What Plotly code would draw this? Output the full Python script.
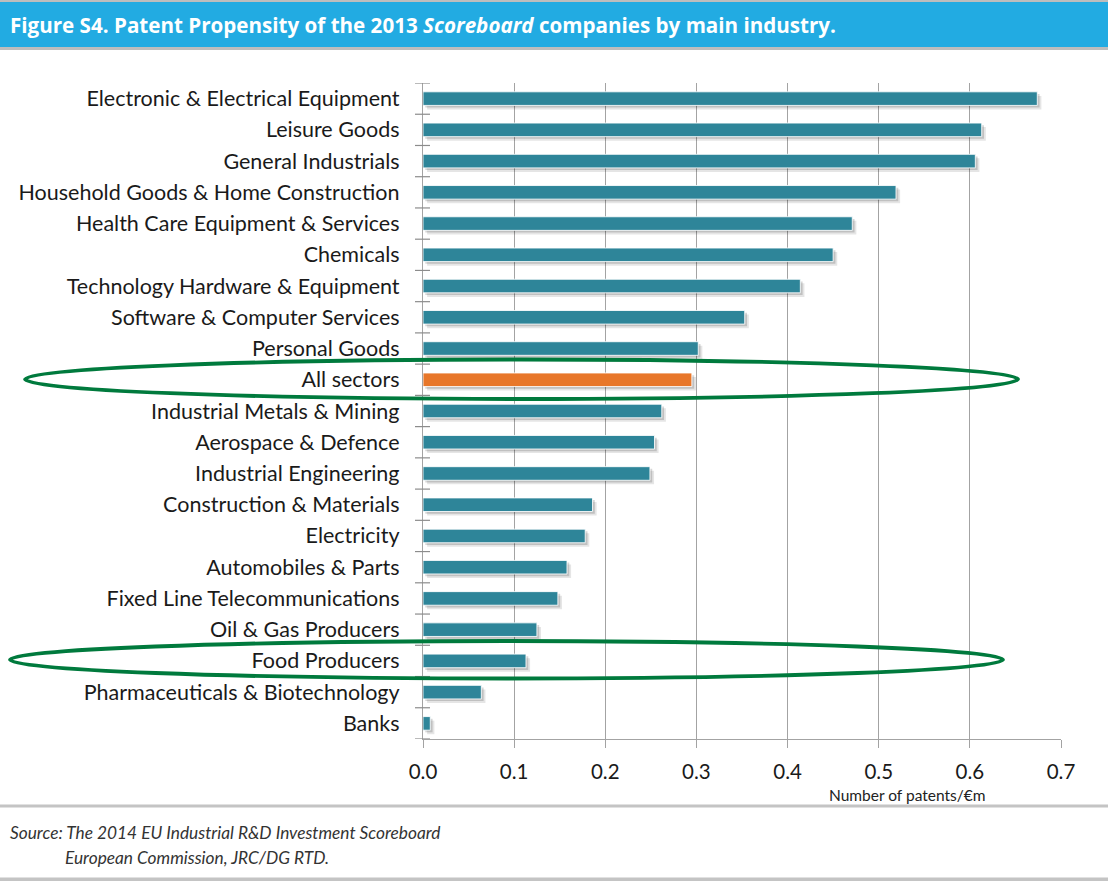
import plotly.graph_objects as go

categories = [
    "Electronic & Electrical Equipment", "Leisure Goods", "General Industrials",
    "Household Goods & Home Construction", "Health Care Equipment & Services",
    "Chemicals", "Technology Hardware & Equipment", "Software & Computer Services",
    "Personal Goods", "All sectors", "Industrial Metals & Mining",
    "Aerospace & Defence", "Industrial Engineering", "Construction & Materials",
    "Electricity", "Automobiles & Parts", "Fixed Line Telecommunications",
    "Oil & Gas Producers", "Food Producers", "Pharmaceuticals & Biotechnology", "Banks",
]
values = [0.674, 0.613, 0.606, 0.519, 0.471, 0.450, 0.414, 0.353, 0.302, 0.295,
          0.262, 0.254, 0.249, 0.186, 0.178, 0.158, 0.148, 0.125, 0.113, 0.064, 0.008]
highlight = ["All sectors"]
circled = ["All sectors", "Food Producers"]
x_ticks = [0.0, 0.1, 0.2, 0.3, 0.4, 0.5, 0.6, 0.7]

W, H = 1108, 881
L, R, T, B = 423, 1061, 83, 739  # plot area in pixels


def px(x):
    return (x - L) / (R - L)


def py(y):
    return (B - y) / (B - T)


TEAL = "#2E8599"
ORANGE = "#E8772A"
colors = [ORANGE if c in highlight else TEAL for c in categories]
n = len(categories)
BW = 0.435

fig = go.Figure()
# soft shadow (two layers)
for off, base, alpha in [(0.13, 0.0045, 0.10), (0.07, 0.0025, 0.16)]:
    fig.add_trace(go.Bar(
        y=categories, x=values, base=base, orientation="h",
        width=BW, offset=-BW / 2 + off,
        marker=dict(color=f"rgba(0,0,0,{alpha})", line=dict(width=0)),
        hoverinfo="skip", showlegend=False,
    ))
fig.add_trace(go.Bar(
    y=categories, x=values, orientation="h",
    width=BW, offset=-BW / 2,
    marker=dict(color=colors, line=dict(color="rgba(255,255,255,0.85)", width=1)),
    showlegend=False,
))

shapes = []
# title bar
shapes.append(dict(type="rect", xref="paper", yref="paper", x0=px(0), x1=px(W),
                   y0=py(0), y1=py(2), fillcolor="#BDBDBD", line_width=0, layer="below"))
shapes.append(dict(type="rect", xref="paper", yref="paper", x0=px(0), x1=px(W),
                   y0=py(2), y1=py(47), fillcolor="#22ABE2", line_width=0, layer="below"))
shapes.append(dict(type="rect", xref="paper", yref="paper", x0=px(0), x1=px(W),
                   y0=py(47), y1=py(50), fillcolor="#BDBDBD", line_width=0, layer="below"))
# separators
shapes.append(dict(type="rect", xref="paper", yref="paper", x0=px(0), x1=px(W),
                   y0=py(804.5), y1=py(807.5), fillcolor="#C4C4C4", line_width=0, layer="below"))
shapes.append(dict(type="rect", xref="paper", yref="paper", x0=px(0), x1=px(W),
                   y0=py(877.5), y1=py(881), fillcolor="#C4C4C4", line_width=0, layer="below"))
# y-axis boundary ticks crossing the axis
for i in range(n + 1):
    shapes.append(dict(type="line", xref="paper", yref="y", x0=px(415), x1=px(430),
                       y0=i - 0.5, y1=i - 0.5, line=dict(color="#8C8C8C", width=1.2)))
# ellipses
ell = {"All sectors": (25, 1018, 359.5, 399), "Food Producers": (10, 1003, 641, 678.5)}
for c in circled:
    x0, x1, y0, y1 = ell[c]
    shapes.append(dict(type="circle", xref="paper", yref="paper",
                       x0=px(x0), x1=px(x1), y0=py(y1), y1=py(y0),
                       line=dict(color="#007A3D", width=3.8), layer="above"))

annotations = [
    dict(xref="paper", yref="paper", x=px(8), y=py(25), xanchor="left", yanchor="middle",
         showarrow=False,
         text="<b>Figure S4. Patent Propensity of the 2013 <i>Scoreboard</i> companies by main industry.</b>",
         font=dict(family="Open Sans", size=20.6, color="white")),
    dict(xref="paper", yref="paper", x=px(827), y=py(795), xanchor="left", yanchor="middle",
         showarrow=False, text="Number of patents/€m",
         font=dict(family="Lato", size=15.5, color="#222222")),
    dict(xref="paper", yref="paper", x=px(8), y=py(832), xanchor="left", yanchor="middle",
         showarrow=False, text="<i>Source: The 2014 EU Industrial R&D Investment Scoreboard</i>",
         font=dict(family="Lato", size=17.3, color="#333333")),
    dict(xref="paper", yref="paper", x=px(63), y=py(857), xanchor="left", yanchor="middle",
         showarrow=False, text="<i>European Commission, JRC/DG RTD.</i>",
         font=dict(family="Lato", size=17.3, color="#333333")),
]

fig.update_layout(
    width=W, height=H,
    margin=dict(l=L, r=W - R, t=T, b=H - B, pad=0),
    paper_bgcolor="white", plot_bgcolor="white",
    barmode="overlay",
    shapes=shapes, annotations=annotations,
    font=dict(family="Lato", color="#1A1A1A"),
    xaxis=dict(range=[0, 0.7], tickvals=x_ticks, ticktext=[f"{v:.1f}" for v in x_ticks],
               showgrid=True, gridcolor="#A3A3A3", gridwidth=1.3,
               showline=True, linecolor="#A3A3A3", linewidth=1.3,
               ticks="outside", ticklen=8, tickcolor="#A3A3A3", tickwidth=1.3,
               tickfont=dict(size=20.5, color="#1A1A1A"), ticklabelstandoff=6,
               zeroline=False, fixedrange=True),
    yaxis=dict(categoryorder="array", categoryarray=categories,
               range=[n - 0.5, -0.5], showgrid=False,
               showline=True, linecolor="#A3A3A3", linewidth=1.3,
               ticks="", tickfont=dict(size=21.5, color="#1A1A1A"),
               ticklabelstandoff=18, fixedrange=True),
)

fig.write_html("out.html")
